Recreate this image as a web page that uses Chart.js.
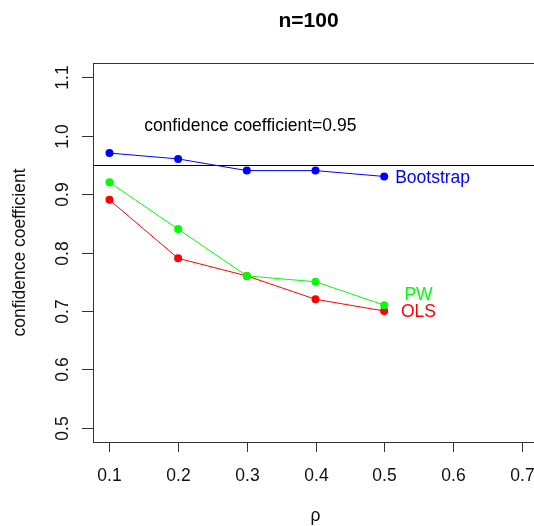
<!DOCTYPE html>
<html><head><meta charset="utf-8">
<script src="https://cdn.jsdelivr.net/npm/chart.js@4/dist/chart.umd.min.js"></script>
<style>
html,body{margin:0;padding:0;background:#fff;overflow:hidden;width:534px;height:526px}
#wrap{width:545px;height:526px;position:relative}
canvas{display:block}
</style></head><body><div id="wrap"><canvas id="c" width="545" height="526"></canvas></div>
<script>
// ---- data ----
const rho = [0.1, 0.2, 0.3, 0.4, 0.5];
const bootstrap = [0.97, 0.96, 0.94, 0.94, 0.93];
const pw = [0.92, 0.84, 0.76, 0.75, 0.71];
const ols = [0.89, 0.79, 0.76, 0.72, 0.70];
const xTicks = [0.1, 0.2, 0.3, 0.4, 0.5, 0.6, 0.7];
const yTicks = [0.5, 0.6, 0.7, 0.8, 0.9, 1.0, 1.1];
const xTickLabels = ["0.1", "0.2", "0.3", "0.4", "0.5", "0.6", "0.7"];
const yTickLabels = ["0.5", "0.6", "0.7", "0.8", "0.9", "1.0", "1.1"];
const refLevel = 0.95;
const refText = "confidence coefficient=0.95";
const refTextPos = [0.305, 1.019];
const seriesNames = ["Bootstrap", "PW", "OLS"];
const labelPos = [[0.5, 0.93], [0.55, 0.73], [0.55, 0.70]];
const titleText = "n=100";
const xTitle = "ρ";
const yTitle = "confidence coefficient";

const FONT = '"Liberation Sans", Arial, sans-serif';
const colors = ["#0000FF", "#00FF00", "#FF0000"];

function pts(ys) { return rho.map((x, i) => ({ x: x, y: ys[i] })); }

const decor = {
  id: 'decor',
  beforeDatasetsDraw(chart) {
    const ctx = chart.ctx, ys = chart.scales.y, a = chart.chartArea;
    ctx.save();
    ctx.strokeStyle = '#000'; ctx.lineWidth = 1;
    const yr = Math.round(ys.getPixelForValue(refLevel)) + 0.5;
    ctx.beginPath(); ctx.moveTo(a.left, yr); ctx.lineTo(a.right, yr); ctx.stroke();
    ctx.restore();
  },
  afterDatasetsDraw(chart) {
    const ctx = chart.ctx, xs = chart.scales.x, ys = chart.scales.y, a = chart.chartArea;
    const dy = 1.5; // baseline nudge for middle-aligned text
    ctx.save();
    ctx.strokeStyle = '#333'; ctx.lineWidth = 1;
    ctx.strokeRect(Math.round(a.left) + 0.5, Math.round(a.top) + 0.5, Math.round(a.right - a.left), Math.round(a.bottom - a.top));
    ctx.fillStyle = '#111';
    ctx.font = '17.5px ' + FONT;
    ctx.textAlign = 'center'; ctx.textBaseline = 'middle';
    xTicks.forEach((v, i) => {
      const px = Math.round(xs.getPixelForValue(v)) + 0.5;
      ctx.beginPath(); ctx.moveTo(px, a.bottom); ctx.lineTo(px, a.bottom + 10); ctx.stroke();
      ctx.fillText(xTickLabels[i], px, a.bottom + 34);
    });
    yTicks.forEach((v, i) => {
      const py = Math.round(ys.getPixelForValue(v)) + 0.5;
      ctx.beginPath(); ctx.moveTo(a.left, py); ctx.lineTo(a.left - 11, py); ctx.stroke();
      ctx.save();
      ctx.translate(a.left - 30, py);
      ctx.rotate(-Math.PI / 2);
      ctx.fillText(yTickLabels[i], 0, 0);
      ctx.restore();
    });
    ctx.fillText(xTitle, (a.left + a.right) / 2, a.bottom + 74);
    ctx.save();
    ctx.translate(20, (a.top + a.bottom) / 2);
    ctx.rotate(-Math.PI / 2);
    ctx.fillText(yTitle, 0, 0);
    ctx.restore();
    ctx.fillStyle = '#000';
    ctx.fillText(refText, xs.getPixelForValue(refTextPos[0]), ys.getPixelForValue(refTextPos[1]) + dy);
    seriesNames.forEach((n, i) => {
      ctx.fillStyle = colors[i];
      const px = xs.getPixelForValue(labelPos[i][0]);
      const py = ys.getPixelForValue(labelPos[i][1]) + dy;
      if (i === 0) { ctx.textAlign = 'left'; ctx.fillText(n, px + 11, py); }
      else { ctx.textAlign = 'center'; ctx.fillText(n, px, py); }
    });
    ctx.fillStyle = '#000';
    ctx.textAlign = 'center';
    ctx.font = 'bold 21px ' + FONT;
    ctx.fillText(titleText, (a.left + a.right) / 2 - 7, 21);
    ctx.restore();
  }
};

const mk = (label, ys, c) => ({
  label: label, data: pts(ys), borderColor: c, backgroundColor: c,
  borderWidth: 1, pointRadius: 4, pointBorderWidth: 0, pointHoverRadius: 4,
  tension: 0, fill: false
});

new Chart(document.getElementById('c'), {
  type: 'line',
  data: { datasets: [mk(seriesNames[0], bootstrap, colors[0]), mk(seriesNames[1], pw, colors[1]), mk(seriesNames[2], ols, colors[2])] },
  options: {
    responsive: false, animation: false, devicePixelRatio: 1,
    layout: { padding: { left: 93, top: 63, right: 7, bottom: 84 } },
    scales: {
      x: { type: 'linear', min: 0.076, max: 0.724, display: false },
      y: { type: 'linear', min: 0.476, max: 1.124, display: false }
    },
    plugins: { legend: { display: false }, tooltip: { enabled: false }, title: { display: false } }
  },
  plugins: [decor]
});
</script></body></html>
